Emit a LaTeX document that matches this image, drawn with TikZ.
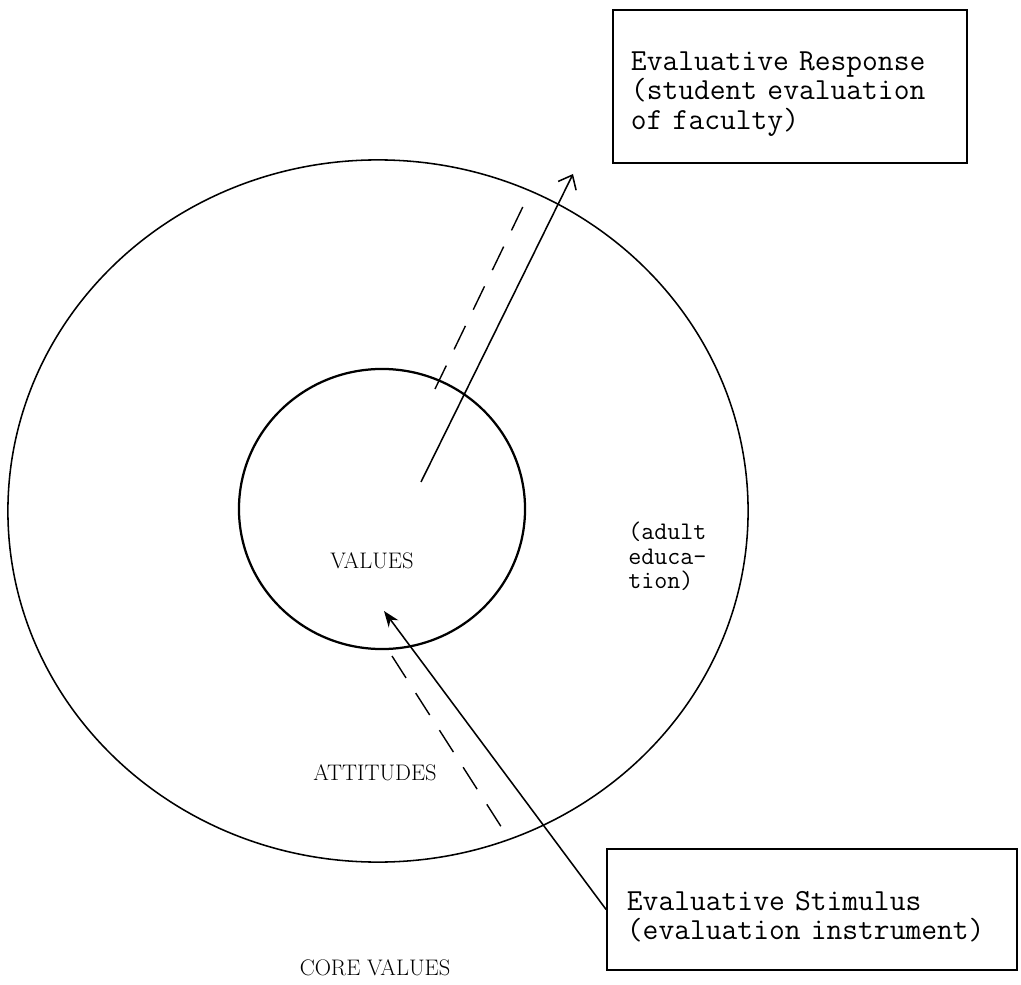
\documentclass[tikz,border=0pt]{standalone}
\usepackage{tikz}
\usetikzlibrary{shapes.geometric,arrows.meta}
\newcommand{\boxfont}{\fontsize{21.8}{21}\selectfont\ttfamily}
\newcommand{\notefont}{\fontsize{18}{17.4}\selectfont\ttfamily}
\newcommand{\topstrut}{\rule{0pt}{24pt}}

\begin{document}
\begin{tikzpicture}[x=0.025cm, y=-0.025cm,
    ring/.style={draw, ellipse, inner sep=0pt, line width=1.1pt},
    tbox/.style={draw, line width=1.2pt, align=left, inner ysep=0pt, font=\boxfont},
    lbl/.style={font=\fontsize{16}{18}\selectfont, inner sep=0pt},
    flow/.style={line width=1.1pt},
    trace/.style={line width=1pt, dash pattern=on 0.65cm off 0.45cm}]
    \useasboundingbox (0,0) rectangle (1021,985);

    % Rings
    \node[ring, minimum width=18.5cm, minimum height=17.55cm] (attring) at (378,511) {};
    \node[ring, line width=1.6pt, minimum width=7.15cm, minimum height=7cm] (valring) at (382,509) {};

    % Ring labels
    \node[lbl] (values) at (372,561) {VALUES};
    \node[lbl] (attitudes) at (375,773) {ATTITUDES};
    \node[lbl] (core) at (375,968) {CORE VALUES};
    \node[font=\notefont, align=left, inner sep=0pt, anchor=north west] (adult) at (628,522) {(adult\\educa-\\tion)};

    % Boxes
    \node[tbox, text width=7.95cm, inner xsep=0.45cm, minimum height=3.825cm] (resp) at (790,86.5)
        {\topstrut Evaluative Response\\(student evaluation\\of faculty)};
    \node[tbox, text width=9.25cm, inner xsep=0.5cm, minimum height=3.025cm] (stim) at (812,909.5)
        {\topstrut Evaluative Stimulus\\(evaluation instrument)};

    % Arrow ends
    \coordinate (vcore) at (421,482);
    \coordinate (rtip) at (573,174);
    \coordinate (vin) at (384,611);
    \coordinate (up1) at (435,389);
    \coordinate (up2) at (530,192);
    \coordinate (dn1) at (392,656);
    \coordinate (dn2) at (509,839);

    % Response path
    \draw[flow, -{Straight Barb[length=0.3cm, width=0.5cm]}] (vcore) -- (rtip);
    \draw[trace] (up1) -- (up2);

    % Stimulus path
    \draw[flow, -{Stealth[length=0.4cm, width=0.3cm]}] (stim.west) -- (vin);
    \draw[trace] (dn1) -- (dn2);
\end{tikzpicture}
\end{document}
